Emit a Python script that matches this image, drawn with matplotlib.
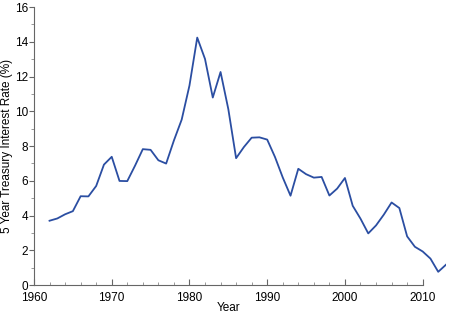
import matplotlib
matplotlib.use("Agg")
import matplotlib.pyplot as plt
from matplotlib.ticker import MultipleLocator

# 5 year treasury rate, annual averages
years = list(range(1962, 2014))
rates = [3.70, 3.83, 4.07, 4.25, 5.11, 5.10, 5.70, 6.93, 7.38, 5.99,
         5.98, 6.87, 7.82, 7.78, 7.18, 6.99, 8.32, 9.52, 11.48, 14.24,
         13.01, 10.79, 12.26, 10.12, 7.30, 7.94, 8.48, 8.50, 8.37, 7.37,
         6.19, 5.14, 6.69, 6.38, 6.18, 6.22, 5.15, 5.55, 6.16, 4.56,
         3.82, 2.97, 3.43, 4.05, 4.75, 4.43, 2.80, 2.20, 1.93, 1.52,
         0.76, 1.17]

plt.rcParams['font.family'] = ['Liberation Sans', 'DejaVu Sans']

fig = plt.figure(figsize=(4.49, 3.15), dpi=100)
ax = fig.add_axes([0.0757, 0.0952, 0.9176, 0.8825])

ax.plot(years, rates, color='#2b4ea2', lw=1.3)

ax.set_xlim(1960, 2013)
ax.set_ylim(0, 16)

# axis lines only over the tick range
for s in ['top', 'right']:
    ax.spines[s].set_visible(False)
ax.spines['bottom'].set_bounds(1960, 2010)
ax.spines['left'].set_bounds(0, 16)
for s in ['bottom', 'left']:
    ax.spines[s].set_color('#666666')
    ax.spines[s].set_linewidth(0.8)

ax.yaxis.set_major_locator(MultipleLocator(2))
ax.yaxis.set_minor_locator(MultipleLocator(1))
ax.set_xticks([1960, 1970, 1980, 1990, 2000, 2010])
ax.set_xticks([y for y in range(1962, 2010, 2) if y % 10], minor=True)

ax.tick_params(axis='x', which='major', direction='in', length=4, width=0.8,
               color='#666666', labelsize=8.5, pad=4.8)
ax.tick_params(axis='x', which='minor', direction='in', length=2, width=0.6,
               color='#888888')
ax.tick_params(axis='y', which='major', direction='out', length=3.5, width=0.8,
               color='#666666', labelsize=8.5, pad=0.5)
ax.tick_params(axis='y', which='minor', direction='out', length=2, width=0.6,
               color='#888888')

ax.set_xlabel('Year', fontsize=8.5)
ax.xaxis.set_label_coords((2010 - 1960) / 2 / 53, -0.06)
ax.xaxis.label.set_va('top')
ax.set_ylabel('5 Year Treasury Interest Rate (%)', fontsize=8.5)
ax.yaxis.set_label_coords(-0.05, 0.5)

fig.savefig('out.png', dpi=100)
